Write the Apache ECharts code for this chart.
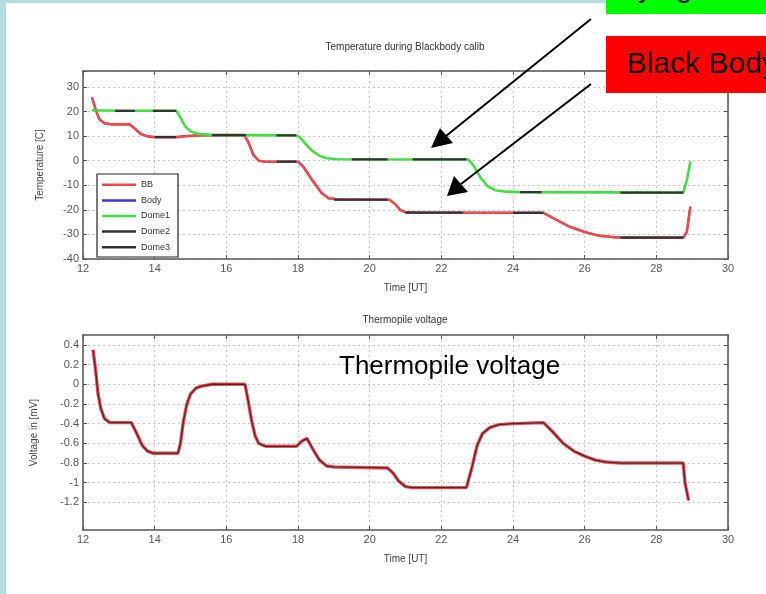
<!DOCTYPE html>
<html>
<head>
<meta charset="utf-8">
<script src="https://cdn.jsdelivr.net/npm/echarts@6/dist/echarts.min.js"></script>
<style>
  html, body { margin: 0; padding: 0; background: #fff; }
  #main { width: 766px; height: 594px; }
</style>
</head>
<body>
<div id="main"></div>
<script>
// top chart: temperatures
var bbTime = [12.25, 12.35, 12.45, 12.6, 12.8, 13.3, 13.45, 13.6, 13.8, 14.0, 14.6, 14.9, 15.2, 15.5, 16.5, 16.6, 16.75, 16.9, 17.1, 18.0, 18.15, 18.4, 18.65, 18.85, 19.1, 20.55, 20.7, 20.85, 21.0, 21.3, 24.85, 25.2, 25.6, 26.0, 26.4, 26.8, 27.2, 28.75, 28.85, 28.95];
var bbTemp = [25.8, 21, 17, 15.2, 14.8, 14.8, 13, 11, 9.9, 9.6, 9.6, 10, 10.3, 10.4, 10.4, 8, 2.5, 0, -0.4, -0.4, -2.5, -8, -13, -15.3, -15.7, -15.9, -17.5, -20, -21, -21.1, -21.2, -24, -27, -29, -30.5, -31.1, -31.3, -31.3, -29, -18.7];

var dome1Time = [12.25, 13.0, 14.6, 14.7, 14.85, 15.0, 15.2, 15.5, 17.95, 18.05, 18.2, 18.4, 18.6, 18.8, 19.1, 22.75, 22.9, 23.1, 23.3, 23.5, 23.8, 24.2, 28.75, 28.85, 28.95];
var dome1Temp = [20.5, 20.3, 20.3, 18, 14, 12, 11, 10.5, 10.3, 9.5, 7, 4, 2, 1, 0.6, 0.5, -2, -7, -10.5, -12, -12.6, -12.8, -13, -8, -0.3];

// black stretches (start, end, level)
var dome2Start = [12.9, 13.95, 15.6, 17.4, 19.5, 21.2, 24.2, 27.0];
var dome2End   = [13.45, 14.6, 16.55, 17.95, 20.5, 22.7, 24.8, 28.75];
var dome2Level = [20.3, 20.3, 10.4, 10.3, 0.5, 0.5, -12.8, -13];

var dome3Start = [14.0, 17.4, 19.0, 21.0, 24.0, 27.0];
var dome3End   = [14.6, 17.95, 20.5, 22.6, 24.85, 28.75];
var dome3Level = [9.6, -0.4, -15.9, -21.1, -21.2, -31.3];

// bottom chart: thermopile voltage
var vTime = [12.28, 12.35, 12.42, 12.5, 12.6, 12.75, 13.35, 13.5, 13.65, 13.8, 13.95, 14.65, 14.72, 14.8, 14.9, 15.0, 15.15, 15.3, 15.6, 16.52, 16.6, 16.7, 16.8, 16.9, 17.1, 17.96, 18.1, 18.25, 18.4, 18.6, 18.8, 19.0, 20.5, 20.65, 20.8, 21.0, 21.2, 22.7, 22.85, 23.0, 23.15, 23.35, 23.6, 24.0, 24.85, 25.1, 25.4, 25.7, 26.0, 26.3, 26.6, 27.0, 28.75, 28.8, 28.9];
var vVolt = [0.35, 0.15, -0.1, -0.25, -0.35, -0.39, -0.39, -0.5, -0.62, -0.68, -0.7, -0.7, -0.6, -0.38, -0.2, -0.1, -0.04, -0.02, 0, 0, -0.15, -0.36, -0.52, -0.6, -0.63, -0.63, -0.58, -0.55, -0.65, -0.77, -0.83, -0.84, -0.85, -0.9, -0.98, -1.04, -1.05, -1.05, -0.85, -0.62, -0.5, -0.44, -0.41, -0.4, -0.39, -0.48, -0.6, -0.68, -0.73, -0.77, -0.79, -0.8, -0.8, -1.0, -1.18];

var voltTicks = [0.4, 0.2, 0, -0.2, -0.4, -0.6, -0.8, -1, -1.2];

function pairs(xs, ys) {
    var out = [];
    for (var i = 0; i < xs.length; i++) out.push([xs[i], ys[i]]);
    return out;
}
function segs(s, e, lv) {
    var out = [];
    for (var i = 0; i < s.length; i++) {
        out.push([s[i], lv[i]], [e[i], lv[i]], '-');
    }
    return out;
}

var FONT = 'Liberation Sans, Arial, sans-serif';
var axisCol = '#555';
var gridLine = { show: true, lineStyle: { color: '#c4c4c4', type: [2, 3], width: 1 } };

function xAx(grid, pos, labels) {
    return {
        type: 'value', gridIndex: grid, position: pos, min: 12, max: 30, interval: 2,
        axisLine: { show: true, onZero: false, lineStyle: { color: axisCol, width: 1.5 } },
        axisTick: { show: true, inside: true, length: 4, lineStyle: { color: axisCol } },
        axisLabel: { show: labels, color: '#555', fontSize: 11, fontFamily: FONT, margin: 4 },
        splitLine: labels ? gridLine : { show: false },
        name: labels ? 'Time [UT]' : '', nameLocation: 'middle', nameGap: 24,
        nameTextStyle: { color: '#444', fontSize: 10, fontFamily: FONT }
    };
}

var chart = echarts.init(document.getElementById('main'));
chart.setOption({
    animation: false,
    backgroundColor: '#fff',
    grid: [
        { left: 83, top: 71, width: 645, height: 188 },
        { left: 83, top: 335, width: 645, height: 195 }
    ],
    legend: {
        data: ['BB', 'Body', 'Dome1', 'Dome2', 'Dome3'],
        orient: 'vertical', left: 97, top: 174,
        icon: 'rect', itemWidth: 34, itemHeight: 2.5, itemGap: 4,
        padding: [5, 8, 4, 5],
        borderColor: '#222', borderWidth: 1.2, backgroundColor: '#fff',
        textStyle: { fontSize: 9, color: '#333', fontFamily: FONT, lineHeight: 11.6 },
        z: 10
    },
    xAxis: [xAx(0, 'bottom', true), xAx(0, 'top', false), xAx(1, 'bottom', true), xAx(1, 'top', false)],
    yAxis: [
        {
            type: 'value', gridIndex: 0, position: 'left', min: -40, max: 36.5, interval: 10,
            axisLine: { show: true, onZero: false, lineStyle: { color: axisCol, width: 1.5 } },
            axisTick: { show: true, inside: true, length: 4, lineStyle: { color: axisCol } },
            axisLabel: {
                color: '#555', fontSize: 11, fontFamily: FONT, margin: 4,
                formatter: function (v) { return v % 10 === 0 ? v : ''; }
            },
            splitLine: gridLine,
            name: 'Temperature [C]', nameLocation: 'middle', nameGap: 38,
            nameTextStyle: { color: '#444', fontSize: 10, fontFamily: FONT }
        },
        {
            type: 'value', gridIndex: 0, position: 'right', min: -40, max: 36.5, interval: 10,
            axisLine: { show: true, onZero: false, lineStyle: { color: axisCol, width: 1.5 } },
            axisTick: { show: true, inside: true, length: 4, lineStyle: { color: axisCol } },
            axisLabel: { show: false }, splitLine: { show: false }
        },
        {
            type: 'value', gridIndex: 1, position: 'left', min: -1.48, max: 0.5,
            axisLine: { show: true, onZero: false, lineStyle: { color: axisCol, width: 1.5 } },
            axisTick: { show: true, inside: true, length: 4, customValues: voltTicks, lineStyle: { color: axisCol } },
            axisLabel: {
                color: '#555', fontSize: 11, fontFamily: FONT, margin: 4, customValues: voltTicks,
                formatter: function (v) { return String(+v.toFixed(1)); }
            },
            splitLine: gridLine,
            name: 'Voltage in [mV]', nameLocation: 'middle', nameGap: 44,
            nameTextStyle: { color: '#444', fontSize: 10, fontFamily: FONT }
        },
        {
            type: 'value', gridIndex: 1, position: 'right', min: -1.48, max: 0.5,
            axisLine: { show: true, onZero: false, lineStyle: { color: axisCol, width: 1.5 } },
            axisTick: { show: true, inside: true, length: 4, customValues: voltTicks, lineStyle: { color: axisCol } },
            axisLabel: { show: false }, splitLine: { show: false }
        }
    ],
    series: [
        { name: 'Body', type: 'line', xAxisIndex: 0, yAxisIndex: 0, symbol: 'none', z: 2,
          color: '#3a3ad8', lineStyle: { width: 2 }, data: pairs(bbTime, bbTemp) },
        { name: 'BB', type: 'line', xAxisIndex: 0, yAxisIndex: 0, symbol: 'none', z: 3,
          color: '#ee4a4a', lineStyle: { width: 2.6 }, data: pairs(bbTime, bbTemp) },
        { name: 'Dome1', type: 'line', xAxisIndex: 0, yAxisIndex: 0, symbol: 'none', z: 3,
          color: '#44dd44', lineStyle: { width: 2.6 }, data: pairs(dome1Time, dome1Temp) },
        { name: 'Dome2', type: 'line', xAxisIndex: 0, yAxisIndex: 0, symbol: 'none', z: 4,
          color: '#333', lineStyle: { width: 2.2 }, data: segs(dome2Start, dome2End, dome2Level) },
        { name: 'Dome3', type: 'line', xAxisIndex: 0, yAxisIndex: 0, symbol: 'none', z: 4,
          color: '#333', lineStyle: { width: 2.2 }, data: segs(dome3Start, dome3End, dome3Level) },
        { name: 'Voltage', type: 'line', xAxisIndex: 2, yAxisIndex: 2, symbol: 'none', z: 3,
          color: '#f0505a', lineStyle: { width: 3.4 }, data: pairs(vTime, vVolt) },
        { name: 'VoltageCore', type: 'line', xAxisIndex: 2, yAxisIndex: 2, symbol: 'none', z: 4,
          color: '#3a1c1c', lineStyle: { width: 1.3, opacity: 0.85 }, data: pairs(vTime, vVolt) }
    ],
    graphic: [
        { type: 'rect', z: 50, shape: { x: 0, y: 0, width: 6, height: 594 }, style: { fill: '#b5dde0' } },
        { type: 'rect', z: 50, shape: { x: 0, y: 0, width: 606, height: 3 }, style: { fill: '#b5dde0' } },
        { type: 'text', z: 50, x: 405, y: 47, style: { text: 'Temperature during Blackbody calib', font: '10px ' + FONT, fill: '#333', align: 'center', verticalAlign: 'middle' } },
        { type: 'text', z: 50, x: 405, y: 320, style: { text: 'Thermopile voltage', font: '10px ' + FONT, fill: '#333', align: 'center', verticalAlign: 'middle' } },
        { type: 'text', z: 50, x: 339, y: 367, style: { text: 'Thermopile voltage', font: '26px ' + FONT, fill: '#000', align: 'left', verticalAlign: 'middle' } },
        { type: 'rect', z: 50, shape: { x: 606, y: 0, width: 160, height: 14 }, style: { fill: '#00ff00' } },
        { type: 'text', z: 51, x: 606, y: 4, style: { text: 'Drying dome', font: '30px ' + FONT, fill: '#000', align: 'left', verticalAlign: 'bottom' } },
        { type: 'rect', z: 50, shape: { x: 606, y: 36, width: 160, height: 57 }, style: { fill: '#ff0000' } },
        { type: 'text', z: 51, x: 627, y: 65, style: { text: 'Black Body', font: '30px ' + FONT, fill: '#000', align: 'left', verticalAlign: 'middle' } },
        { type: 'line', z: 60, shape: { x1: 591, y1: 19, x2: 446, y2: 136 }, style: { stroke: '#000', lineWidth: 2 } },
        { type: 'polygon', z: 60, shape: { points: [[431, 148], [453, 143], [440, 128]] }, style: { fill: '#000' } },
        { type: 'line', z: 60, shape: { x1: 591, y1: 84, x2: 461, y2: 184 }, style: { stroke: '#000', lineWidth: 2 } },
        { type: 'polygon', z: 60, shape: { points: [[447, 196], [468, 192], [454, 176]] }, style: { fill: '#000' } }
    ]
});
</script>
</body>
</html>
